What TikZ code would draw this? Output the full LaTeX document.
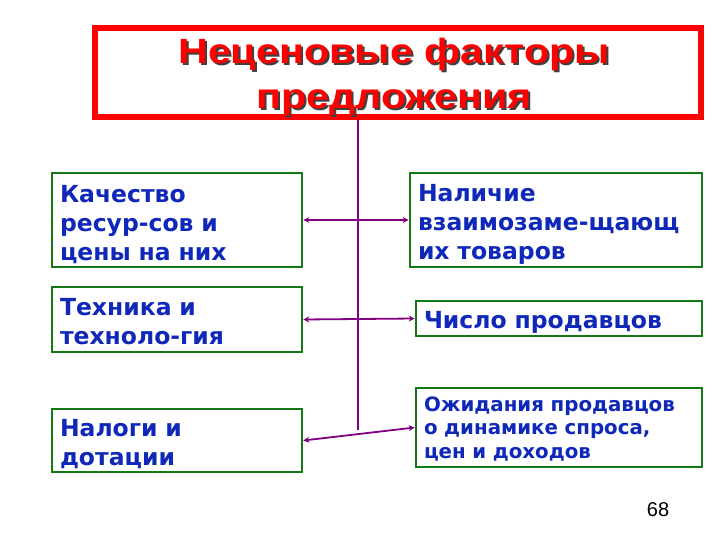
\documentclass[tikz,border=0pt]{standalone}
\usepackage{fontspec}
\usetikzlibrary{arrows.meta}
\setmainfont{Liberation Sans}
\newfontfamily\boxfont{DejaVu Sans}
\newfontfamily\titlefont[FakeStretch=1.18]{Liberation Sans}
\newcommand\topfix[1]{\rule{0pt}{#1}}
\definecolor{boxgreen}{RGB}{20,120,20}
\definecolor{textblue}{RGB}{15,40,185}
\definecolor{linepurple}{RGB}{128,0,128}
\definecolor{titlered}{RGB}{255,0,0}
\tikzset{
  fbox/.style={draw=boxgreen, line width=2.6pt, text=textblue, align=left,
    font=\boxfont\bfseries\fontsize{23.5}{29}\selectfont, inner xsep=8pt, inner ysep=0pt},
  conn/.style={draw=linepurple, line width=1.8pt, {Stealth[length=6pt,width=6pt]}-{Stealth[length=6pt,width=6pt]}},
  ttext/.style={align=center, font=\titlefont\bfseries\fontsize{35}{45}\selectfont}
}
\begin{document}
\begin{tikzpicture}[x=1pt,y=-1pt]
\useasboundingbox (0,0) rectangle (720,540);
\fill[white] (0,0) rectangle (720,540);
% title
\node[draw=titlered, line width=6pt, minimum width=606pt, minimum height=89pt] (title) at (398,72.5) {};
\node[ttext, text=black!75] (tshadow) at (396,79) {Неценовые факторы\\предложения};
\node[ttext, text=titlered] (ttext) at (394,77) {Неценовые факторы\\предложения};
% boxes
\node[fbox, minimum width=250pt, minimum height=94pt, text width=234pt] (L1) at (177,220) {\topfix{26pt}Качество\\ресур-сов и\\цены на них};
\node[fbox, minimum width=292pt, minimum height=94pt, text width=276pt] (R1) at (556,220) {\topfix{26pt}Наличие\\взаимозаме-щающ\\их товаров};
\node[fbox, minimum width=250pt, minimum height=65pt, text width=234pt] (L2) at (177,319.5) {\topfix{21pt}Техника и\\техноло-гия};
\node[fbox, minimum width=286pt, minimum height=35pt, text width=270pt] (R2) at (559,318.5) {\topfix{24pt}Число продавцов};
\node[fbox, minimum width=250pt, minimum height=63pt, text width=234pt] (L3) at (177,440.5) {\topfix{24pt}Налоги и\\дотации};
\node[fbox, minimum width=286pt, minimum height=79pt, text width=270pt,
  font=\boxfont\bfseries\fontsize{19.8}{23.5}\selectfont] (R3) at (559,427.5) {\topfix{17pt}Ожидания продавцов\\о динамике спроса,\\цен и доходов};
% connectors
\coordinate (vbot) at (358,430);
\draw[linepurple, line width=1.5pt] (title.south -| vbot) -- (vbot);
\draw[conn] (L1.east) -- (R1.west);
\draw[conn] (L2.east) -- (R2.west);
\draw[conn] (L3.east) -- (R3.west);
% page number
\node[font=\fontsize{20}{24}\selectfont] (pnum) at (658,510) {68};
\end{tikzpicture}
\end{document}
